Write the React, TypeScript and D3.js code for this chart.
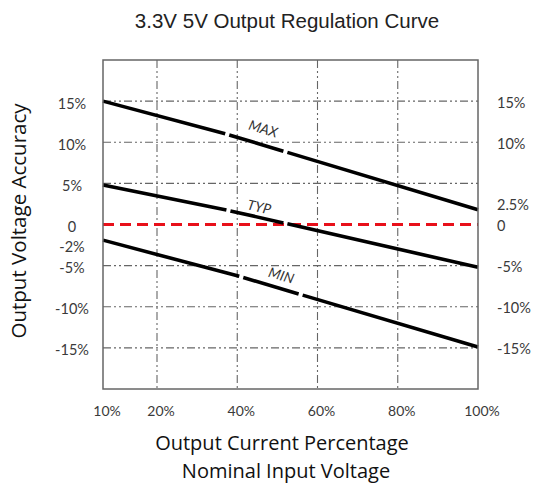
import React from 'react';
import * as d3 from 'd3';

// values
const xTicks = [10, 20, 40, 60, 80, 100];
const gridX = [20, 40, 60, 80];
const gridY = [15, 10, 5, -5, -10, -15];
const leftTicks = ['15%', '10%', '5%', '0', '-2%', '-5%', '-10%', '-15%'];
const leftTickValues = [15, 10, 5, 0, -2, -5, -10, -15];
const rightTicks = ['15%', '10%', '2.5%', '0', '-5%', '-10%', '-15%'];
const rightTickValues = [15, 10, 2.5, 0, -5, -10, -15];

const loadPct = [10, 100];
const maxValues = [15, 1.8];
const typValues = [4.8, -5.2];
const minValues = [-1.9, -14.9];

// x positions where the drawn lines have small white breaks
const maxBreaks = [37.5, 52];
const typBreaks = [37.8, 52];
const minBreaks = [41, 55.8];

const series = [
  { name: 'MAX', values: maxValues, breaks: maxBreaks, labelAt: 46.5, labelDy: -17 },
  { name: 'TYP', values: typValues, breaks: typBreaks, labelAt: 45.5, labelDy: -11 },
  { name: 'MIN', values: minValues, breaks: minBreaks, labelAt: 51, labelDy: -14 },
];

const W = 534;
const H = 485;
const plot = { left: 103, right: 478, top: 60, bottom: 389 };
const labelFont = 'Lato, "Open Sans", sans-serif';
const titleFont = '"Open Sans", Lato, sans-serif';
const gridDash = '8,3,2,3,2,3';

export default function App() {
  // the reference axis is not uniform between 10% and 20%
  const x = d3.scaleLinear().domain([10, 20, 100]).range([plot.left, 157, plot.right]);
  const y = d3.scaleLinear().domain([-20, 20]).range([plot.bottom, plot.top]);
  const line = d3.line<[number, number]>().x(d => x(d[0])).y(d => y(d[1]));

  const gap = 0.5;

  return (
    <svg width={W} height={H} style={{ position: 'absolute', left: 0, top: 0, background: '#fff' }}>
      <text x={287} y={28} textAnchor="middle" fontFamily='"Liberation Sans", Arial, sans-serif'
        fontSize={20.5} fill="#222">3.3V 5V Output Regulation Curve</text>

      {/* grid */}
      {gridY.map(v => (
        <line key={'gy' + v} x1={plot.left} x2={plot.right} y1={y(v)} y2={y(v)}
          stroke="#666" strokeWidth={1.1} strokeDasharray={gridDash} />
      ))}
      {gridX.map(v => (
        <line key={'gx' + v} x1={x(v)} x2={x(v)} y1={plot.top} y2={plot.bottom}
          stroke="#666" strokeWidth={1.1} strokeDasharray={gridDash} />
      ))}

      {/* zero reference */}
      <line x1={plot.left} x2={plot.right} y1={y(0)} y2={y(0)}
        stroke="#e8101a" strokeWidth={3} strokeDasharray="11,6" />

      {/* curves */}
      {series.map(s => {
        const f = d3.scaleLinear().domain(loadPct).range(s.values);
        const cuts = [loadPct[0], ...s.breaks, loadPct[1]];
        const segs: [number, number][][] = [];
        for (let i = 0; i < cuts.length - 1; i++) {
          const a = i === 0 ? cuts[i] : cuts[i] + gap;
          const b = i === cuts.length - 2 ? cuts[i + 1] : cuts[i + 1] - gap;
          segs.push([[a, f(a)], [b, f(b)]]);
        }
        const px = x(s.labelAt);
        const py = y(f(s.labelAt)) + s.labelDy;
        const ang = Math.atan2(y(s.values[1]) - y(s.values[0]), x(100) - x(10)) * 180 / Math.PI;
        return (
          <g key={s.name}>
            {segs.map((seg, i) => (
              <path key={i} d={line(seg) || ''} stroke="#000" strokeWidth={3.6} fill="none" />
            ))}
            <text x={px} y={py} textAnchor="middle" dominantBaseline="central"
              transform={`rotate(${ang}, ${px}, ${py})`} fontFamily={labelFont}
              fontStyle="italic" fontSize={14} fill="#333">{s.name}</text>
          </g>
        );
      })}

      {/* frame */}
      <rect x={plot.left} y={plot.top} width={plot.right - plot.left} height={plot.bottom - plot.top}
        fill="none" stroke="#666" strokeWidth={1.5} />

      {/* left ticks */}
      {leftTicks.map((t, i) => (
        <text key={'l' + t} x={72} y={y(leftTickValues[i]) + (leftTickValues[i] === -2 ? 6 : 2)}
          textAnchor="middle" dominantBaseline="central" fontFamily={labelFont}
          fontSize={14.5} fill="#3a3a3a">{t}</text>
      ))}
      {/* right ticks */}
      {rightTicks.map((t, i) => (
        <text key={'r' + t} x={plot.right + 19} y={y(rightTickValues[i]) + 1}
          textAnchor="start" dominantBaseline="central" fontFamily={labelFont}
          fontSize={14.5} fill="#3a3a3a">{t}</text>
      ))}
      {/* x ticks */}
      {xTicks.map(v => (
        <text key={'x' + v} x={x(v) + 4} y={410}
          textAnchor="middle" dominantBaseline="central" fontFamily={labelFont}
          fontSize={14} fill="#3a3a3a">{v + '%'}</text>
      ))}

      <text transform={`translate(26, 221) rotate(-90)`} textAnchor="middle" fontFamily={titleFont}
        fontSize={20.5} fill="#111">Output Voltage Accuracy</text>
      <text x={282} y={450} textAnchor="middle" fontFamily={titleFont} fontSize={20} fill="#111">
        Output Current Percentage
      </text>
      <text x={286} y={478} textAnchor="middle" fontFamily={titleFont} fontSize={20} fill="#111">
        Nominal Input Voltage
      </text>
    </svg>
  );
}
